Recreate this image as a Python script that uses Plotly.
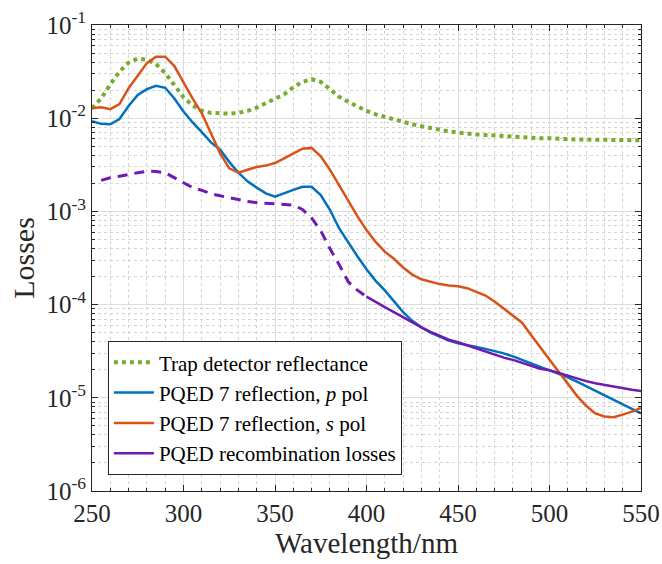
import plotly.graph_objects as go

# ---------------- data ----------------
wl = list(range(250, 551, 5))

trap_refl = [0.0128, 0.0163, 0.0230, 0.0316, 0.0395, 0.0435, 0.0425, 0.0380, 0.0305, 0.0230,
             0.0168, 0.0137, 0.0120, 0.0114, 0.0112, 0.0112, 0.0114, 0.0120, 0.0130, 0.0144,
             0.0160, 0.0180, 0.0215, 0.0245, 0.0262, 0.0245, 0.0205, 0.0170, 0.0150, 0.0133,
             0.0120, 0.0110, 0.0103, 0.0096, 0.0091, 0.0086, 0.0082, 0.0078, 0.0075, 0.0072,
             0.0070, 0.0068, 0.0067, 0.0066, 0.0065, 0.0064, 0.0063, 0.0062, 0.0062, 0.0061,
             0.0061, 0.0060, 0.0060, 0.0059, 0.0059, 0.0059, 0.0058, 0.0058, 0.0058, 0.0058,
             0.0058]

p_pol = [0.0093, 0.0087, 0.0086, 0.0098, 0.0135, 0.0178, 0.0205, 0.0223, 0.0212, 0.0163,
         0.0118, 0.0090, 0.0071, 0.0055, 0.0046, 0.0034, 0.0026, 0.0021, 0.0018, 0.00156,
         0.00144, 0.00155, 0.0017, 0.00184, 0.00184, 0.0015, 0.00104, 0.00066, 0.00046, 0.00033,
         0.00024, 0.00018, 0.000142, 0.000108, 0.000083, 0.000067, 0.000057, 0.000050, 0.000045, 0.000041,
         0.0000385, 0.0000365, 0.0000352, 0.0000335, 0.0000318, 0.0000300, 0.0000278, 0.0000255, 0.0000235, 0.0000215,
         0.0000197, 0.0000184, 0.0000166, 0.0000149, 0.0000133, 0.0000119, 0.0000106, 0.0000095, 0.0000085, 0.0000076,
         0.0000068]

s_pol = [0.0128, 0.0131, 0.0125, 0.0142, 0.0210, 0.0290, 0.0390, 0.0457, 0.0457, 0.0363,
         0.0240, 0.0162, 0.0113, 0.0070, 0.0042, 0.0029, 0.0026, 0.0028, 0.0030, 0.0031,
         0.0033, 0.0037, 0.0042, 0.0047, 0.0048, 0.0039, 0.0028, 0.0019, 0.00127, 0.00089,
         0.00063, 0.00047, 0.00037, 0.00031, 0.00025, 0.00021, 0.000187, 0.000175, 0.000166, 0.000160,
         0.000157, 0.000150, 0.000138, 0.000125, 0.000108, 0.000090, 0.000076, 0.000064, 0.000047, 0.0000345,
         0.0000260, 0.0000190, 0.0000142, 0.0000105, 0.0000082, 0.0000068, 0.0000063, 0.0000062, 0.0000066, 0.0000071,
         0.0000078]

wl_rec_dash = list(range(255, 401, 5))
rec_dash = [0.00215, 0.0023, 0.00238, 0.0025, 0.0026, 0.0027, 0.00268, 0.0026, 0.0023, 0.0020,
            0.0018, 0.00168, 0.00155, 0.00147, 0.0014, 0.00133, 0.00128, 0.00124, 0.00122, 0.0012,
            0.00118, 0.00117, 0.00105, 0.00085, 0.00062, 0.00040, 0.00027, 0.000176, 0.000143, 0.000122]

wl_rec = list(range(400, 551, 5))
rec_solid = [0.000122, 0.000106, 0.000094, 0.000083, 0.000073, 0.000064, 0.000057, 0.000051, 0.000046, 0.000042,
             0.0000395, 0.0000365, 0.0000338, 0.0000312, 0.0000290, 0.0000270, 0.0000255, 0.0000236, 0.0000219, 0.0000205,
             0.0000198, 0.0000185, 0.0000173, 0.0000160, 0.0000151, 0.0000143, 0.0000137, 0.0000131, 0.0000126, 0.0000122,
             0.0000118]

y_tickvals = [1e-6, 1e-5, 1e-4, 1e-3, 1e-2, 1e-1]
y_ticktext = ["10<sup>-6</sup>", "10<sup>-5</sup>", "10<sup>-4</sup>",
              "10<sup>-3</sup>", "10<sup>-2</sup>", "10<sup>-1</sup>"]

# ---------------- style ----------------
GREEN = "#77AC30"
BLUE = "#0072BD"
ORANGE = "#D95319"
PURPLE = "#7019B4"
FONT = "Liberation Serif, Times New Roman, DejaVu Serif, serif"
AX = "#262626"

fig = go.Figure()
fig.add_trace(go.Scatter(x=wl, y=trap_refl, mode="lines", name="Trap detector reflectance",
                         line=dict(color=GREEN, width=4, dash="dot")))
fig.add_trace(go.Scatter(x=wl, y=p_pol, mode="lines", name="PQED 7 reflection, <i>p</i> pol",
                         line=dict(color=BLUE, width=2.5)))
fig.add_trace(go.Scatter(x=wl, y=s_pol, mode="lines", name="PQED 7 reflection, <i>s</i> pol",
                         line=dict(color=ORANGE, width=2.5)))
fig.add_trace(go.Scatter(x=wl_rec_dash, y=rec_dash, mode="lines", showlegend=False,
                         line=dict(color=PURPLE, width=3, dash="10px,7px")))
fig.add_trace(go.Scatter(x=wl_rec, y=rec_solid, mode="lines", name="PQED recombination losses",
                         line=dict(color=PURPLE, width=2.5)))

minor_y = [k * 10.0 ** e for e in range(-6, -1) for k in range(2, 10)]

fig.update_layout(
    width=662, height=564,
    margin=dict(l=92, r=21, t=25, b=73, autoexpand=False),
    paper_bgcolor="white", plot_bgcolor="white",
    font=dict(family=FONT, color=AX),
    showlegend=True,
    legend=dict(x=0.029, y=0.034, xanchor="left", yanchor="bottom",
                bgcolor="white", bordercolor=AX, borderwidth=1,
                font=dict(family=FONT, size=21, color="black"),
                tracegroupgap=0, itemwidth=40),
)
fig.update_xaxes(
    range=[250, 550], tickmode="linear", tick0=250, dtick=50, automargin=False,
    ticks="inside", ticklen=6, tickcolor=AX, showline=True, linecolor=AX, linewidth=1,
    mirror="allticks", showgrid=True, gridcolor="#dcdcdc", gridwidth=1,
    tickfont=dict(family=FONT, size=25, color=AX),
    title=dict(text="Wavelength/nm", font=dict(family=FONT, size=29, color=AX), standoff=2),
    minor=dict(dtick=10, ticks="inside", ticklen=3, tickcolor=AX, showgrid=True,
               gridcolor="#d4d4d4", griddash="dot", gridwidth=1),
    zeroline=False,
)
fig.update_yaxes(
    type="log", range=[-6, -1], tickmode="array", tickvals=y_tickvals, ticktext=y_ticktext,
    automargin=False,
    ticks="inside", ticklen=6, tickcolor=AX, showline=True, linecolor=AX, linewidth=1,
    mirror="allticks", showgrid=True, gridcolor="#dcdcdc", gridwidth=1,
    tickfont=dict(family=FONT, size=25, color=AX),
    title=dict(text="Losses", font=dict(family=FONT, size=30, color=AX), standoff=2),
    minor=dict(tickmode="array", tickvals=minor_y, ticks="inside", ticklen=3, tickcolor=AX,
               showgrid=True, gridcolor="#d4d4d4", griddash="dot", gridwidth=1),
    zeroline=False,
)

fig.write_html("out.html")
